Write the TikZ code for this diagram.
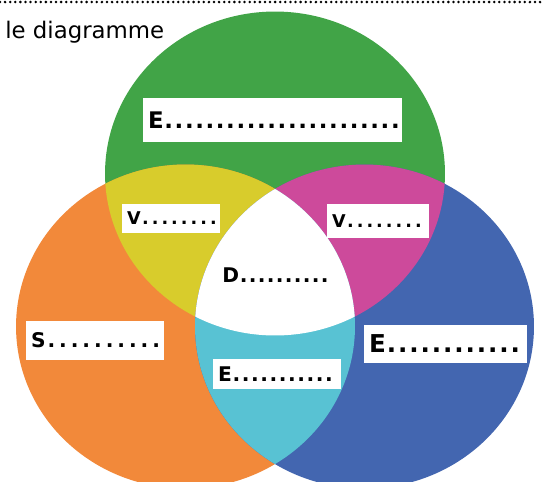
\documentclass[tikz,border=0pt]{standalone}
\usepackage{fontspec}
\setsansfont{DejaVu Sans}
\usepackage{tikz}
\definecolor{vgreen}{HTML}{41A447}
\definecolor{vorange}{HTML}{F2893A}
\definecolor{vblue}{HTML}{4366B0}
\definecolor{vyellow}{HTML}{D8CC2C}
\definecolor{vmagenta}{HTML}{CD4A9B}
\definecolor{vcyan}{HTML}{58C2D3}
\newcommand{\fieldfont}[1]{\sffamily\bfseries\fontsize{#1}{#1}\selectfont}
\newcommand{\blanks}[2]{\foreach \k in {1,...,#1}{\makebox[#2]{.}}}
\newcommand{\envset}{(275,173.5) ellipse [x radius=3.4cm,y radius=3.24cm]}
\newcommand{\socset}{(185.5,326.5) ellipse [x radius=3.39cm,y radius=3.24cm]}
\newcommand{\ecoset}{(364.5,326.5) ellipse [x radius=3.39cm,y radius=3.24cm]}
\tikzstyle{every node}=[font=\sffamily]
\tikzstyle{field}=[fill=white,inner xsep=0.1cm,inner ysep=0pt,align=left]

\begin{document}
\begin{tikzpicture}[x=0.02cm,y=-0.02cm]
    \useasboundingbox (0,0) rectangle (544,481);
    \clip (0,0) rectangle (544,481);
    \draw[line width=1.6pt,line cap=round,dash pattern=on 0pt off 2.9pt] (0,2)--(544,2);
    \fill[vgreen] \envset;
    \fill[vorange] \socset;
    \fill[vblue] \ecoset;
    \begin{scope}
      \clip \envset;
      \fill[vyellow] \socset;
      \fill[vmagenta] \ecoset;
    \end{scope}
    \begin{scope}
      \clip \socset;
      \fill[vcyan] \ecoset;
      \clip \ecoset;
      \fill[white] \envset;
    \end{scope}
    \node[anchor=base west,inner sep=0pt,font=\sffamily\fontsize{13}{14}\selectfont] (titre) at (5,38) {le diagramme};
    \node[field,text width=4.98cm,minimum height=0.88cm,font=\fieldfont{13}] (envir) at (272.5,120) {E\blanks{23}{0.206cm}};
    \node[field,text width=1.76cm,minimum height=0.58cm,font=\fieldfont{10}] (vivable) at (171,218.5) {V\blanks{8}{0.194cm}};
    \node[field,text width=1.84cm,minimum height=0.68cm,font=\fieldfont{10}] (viable) at (378,221) {V\blanks{8}{0.194cm}};
    \node[anchor=west,inner sep=0pt,font=\fieldfont{11.5}] (durable) at (222,275) {D\blanks{10}{0.18cm}};
    \node[field,text width=2.56cm,minimum height=0.78cm,font=\fieldfont{11.5}] (social) at (95,340.5) {S\blanks{10}{0.233cm}};
    \node[field,text width=3.06cm,minimum height=0.76cm,font=\fieldfont{14}] (econ) at (445.5,344) {E\blanks{12}{0.225cm}};
    \node[field,text width=2.36cm,minimum height=0.6cm,font=\fieldfont{11.5}] (equitable) at (277,374) {E\blanks{11}{0.185cm}};
  \end{tikzpicture}
\end{document}
